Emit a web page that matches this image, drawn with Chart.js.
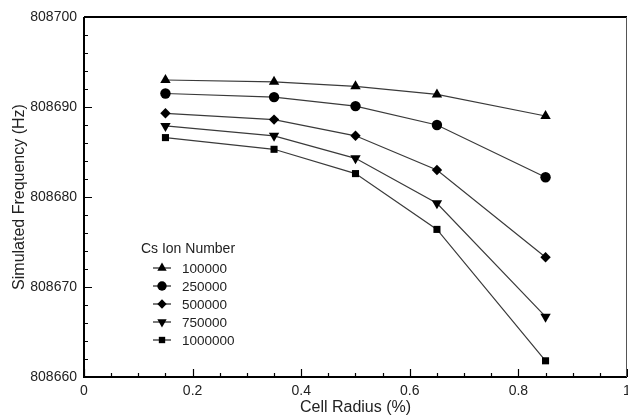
<!DOCTYPE html>
<html>
<head>
<meta charset="utf-8">
<script src="https://cdn.jsdelivr.net/npm/chart.js@4/dist/chart.umd.min.js"></script>
<style>
  html, body { margin: 0; padding: 0; background: #fff; }
  #wrap { width: 628px; height: 417px; position: relative; }
</style>
</head>
<body>
<div id="wrap"><canvas id="chart"></canvas></div>
<script>
// cell radius (%) values on x
var radius = [0.15, 0.35, 0.5, 0.65, 0.85];

// simulated frequency (Hz) for each Cs ion number
var ionNumbers = ['100000', '250000', '500000', '750000', '1000000'];
var freq100k = [808693.0, 808692.8, 808692.3, 808691.4, 808689.0];
var freq250k = [808691.5, 808691.1, 808690.1, 808688.0, 808682.2];
var freq500k = [808689.3, 808688.6, 808686.8, 808683.0, 808673.3];
var freq750k = [808687.9, 808686.8, 808684.3, 808679.3, 808666.7];
var freq1M   = [808686.6, 808685.3, 808682.6, 808676.4, 808661.8];

var xTicks = [0, 0.2, 0.4, 0.6, 0.8, 1];
var yTicks = [808660, 808670, 808680, 808690, 808700];

var seriesValues = [freq100k, freq250k, freq500k, freq750k, freq1M];
var markerStyles = ['triangle', 'circle', 'rectRot', 'triangle', 'rect'];
var markerRotation = [0, 0, 0, 180, 0];
var markerRadius = [6, 5.2, 5.2, 6, 5];

var FONT = '"Liberation Sans", Arial, sans-serif';

function toPoints(values) {
    return radius.map(function (r, i) { return { x: r, y: values[i] }; });
}

var datasets = ionNumbers.map(function (label, i) {
    return {
        label: label,
        data: toPoints(seriesValues[i]),
        borderColor: '#3a3a3a',
        borderWidth: 1.2,
        backgroundColor: '#000',
        pointBackgroundColor: '#000',
        pointBorderColor: '#000',
        pointStyle: markerStyles[i],
        rotation: markerRotation[i],
        pointRadius: markerRadius[i],
        pointBorderWidth: 0,
        showLine: true,
        fill: false,
        tension: 0
    };
});

// frame, inward ticks and legend box drawn on top of the scales
var framePlugin = {
    id: 'frame',
    afterDraw: function (chart) {
        var ctx = chart.ctx;
        var a = chart.chartArea;
        var xs = chart.scales.x, ys = chart.scales.y;
        ctx.save();
        ctx.strokeStyle = '#000';
        ctx.lineWidth = 2;
        ctx.beginPath();
        ctx.moveTo(a.left, a.top); ctx.lineTo(a.right, a.top);
        ctx.moveTo(a.left, a.top); ctx.lineTo(a.left, a.bottom);
        ctx.moveTo(a.left - 1, a.bottom); ctx.lineTo(a.right, a.bottom);
        ctx.stroke();
        ctx.strokeStyle = '#555';
        ctx.lineWidth = 1;
        ctx.beginPath();
        ctx.moveTo(a.right - 0.5, a.top); ctx.lineTo(a.right - 0.5, a.bottom);
        ctx.stroke();

        ctx.strokeStyle = '#000';
        ctx.lineWidth = 1.2;
        ctx.beginPath();
        for (var v = 0; v <= 1.0001; v += 0.05) {
            var px = Math.round(xs.getPixelForValue(v)) + 0.5;
            var major = Math.abs(v * 5 - Math.round(v * 5)) < 1e-6;
            var len = major ? 8 : 4;
            ctx.moveTo(px, a.bottom); ctx.lineTo(px, a.bottom - len);
        }
        for (var f = 808660; f <= 808700; f += 2) {
            var py = Math.round(ys.getPixelForValue(f)) + 0.5;
            var maj = f % 10 === 0;
            ctx.moveTo(a.left, py); ctx.lineTo(a.left + (maj ? 8 : 4), py);
        }
        ctx.stroke();

        // legend
        var lx = 162, ly = 268, gap = 18;
        ctx.fillStyle = '#222';
        ctx.font = '14px ' + FONT;
        ctx.textBaseline = 'middle';
        ctx.textAlign = 'center';
        ctx.fillText('Cs Ion Number', 188, 249);
        ctx.textAlign = 'left';
        ctx.font = '13.5px ' + FONT;
        chart.data.datasets.forEach(function (ds, i) {
            var y = ly + i * gap;
            ctx.strokeStyle = '#222';
            ctx.lineWidth = 1.2;
            ctx.beginPath();
            ctx.moveTo(lx - 9, y); ctx.lineTo(lx + 9, y);
            ctx.stroke();
            ctx.fillStyle = '#000';
            Chart.helpers.drawPoint(ctx, {
                pointStyle: ds.pointStyle,
                rotation: ds.rotation,
                radius: ds.pointRadius * 0.9,
                borderWidth: 0
            }, lx, y);
            ctx.fillStyle = '#222';
            ctx.fillText(ds.label, 182, y + 1);
        });
        ctx.restore();
    }
};

new Chart(document.getElementById('chart').getContext('2d'), {
    type: 'scatter',
    data: { datasets: datasets },
    options: {
        responsive: true,
        maintainAspectRatio: false,
        animation: false,
        layout: { autoPadding: false, padding: { top: 17, right: 1, bottom: 0, left: 0 } },
        plugins: {
            legend: { display: false },
            tooltip: { enabled: false }
        },
        scales: {
            x: {
                type: 'linear',
                min: 0,
                max: 1,
                afterBuildTicks: function (scale) {
                    scale.ticks = xTicks.map(function (v) { return { value: v }; });
                },
                afterFit: function (scale) {
                    scale.height = 40;
                    scale.paddingRight = 0;
                    scale.paddingLeft = 0;
                },
                grid: { display: false, drawTicks: false },
                border: { display: false },
                ticks: {
                    color: '#222',
                    padding: 6,
                    maxRotation: 0,
                    autoSkip: false,
                    font: { family: FONT, size: 14 },
                    callback: function (v) { return String(v); }
                },
                title: {
                    display: true,
                    text: 'Cell Radius (%)',
                    color: '#222',
                    padding: { top: 0, bottom: 0 },
                    font: { family: FONT, size: 16 }
                }
            },
            y: {
                type: 'linear',
                min: 808660,
                max: 808700,
                afterBuildTicks: function (scale) {
                    scale.ticks = yTicks.map(function (v) { return { value: v }; });
                },
                afterFit: function (scale) {
                    scale.width = 84;
                    scale.paddingTop = 0;
                    scale.paddingBottom = 0;
                },
                grid: { display: false, drawTicks: false },
                border: { display: false },
                ticks: {
                    color: '#222',
                    padding: 7,
                    autoSkip: false,
                    font: { family: FONT, size: 14 },
                    callback: function (v) { return String(v); }
                },
                title: {
                    display: true,
                    text: 'Simulated Frequency (Hz)',
                    color: '#222',
                    padding: { top: 10, bottom: 0 },
                    font: { family: FONT, size: 16 }
                }
            }
        }
    },
    plugins: [framePlugin]
});
</script>
</body>
</html>
